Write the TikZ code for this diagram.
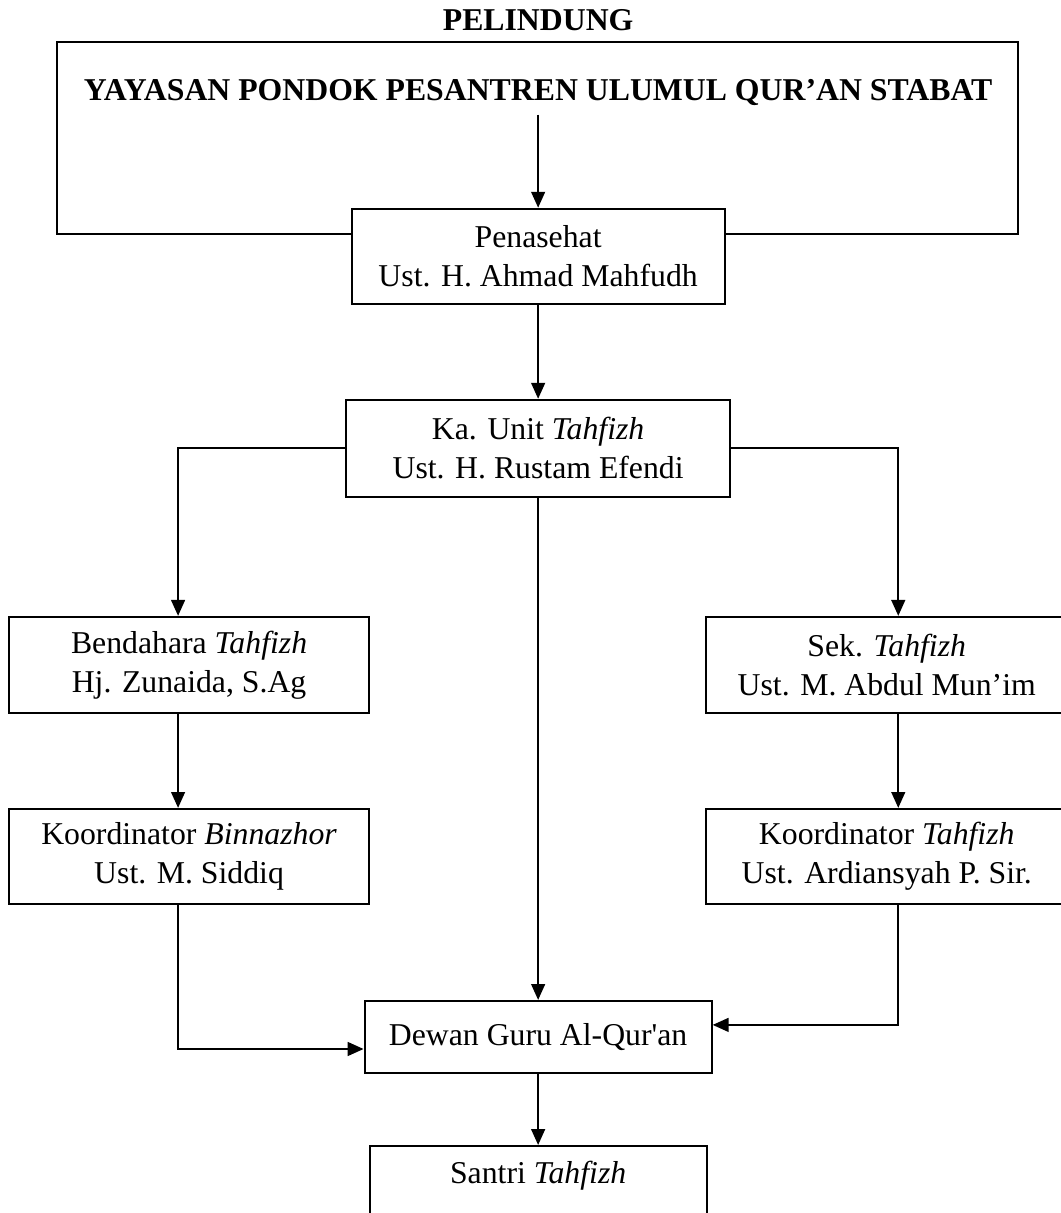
\documentclass[tikz,border=0pt]{standalone}
\usepackage{fontspec}
\setmainfont{Liberation Serif}
\usetikzlibrary{arrows.meta}

\begin{document}
\begin{tikzpicture}[>={Triangle[length=6pt,width=5.2pt]},line width=0.75pt,
  box/.style={draw,fill=white,inner sep=0pt,align=center,font=\fontsize{12}{14.8}\selectfont},
  headtext/.style={inner sep=3pt,font=\bfseries\fontsize{12}{14.5}\selectfont}]
\useasboundingbox (0,0) rectangle (14.08,16.11);
\node[headtext] (pelindung) at (7.147,15.836) {PELINDUNG};
\node[draw,minimum width=12.77cm,minimum height=2.55cm] (frame) at (7.14,14.28) {};
\node[headtext] (yayasan) at (7.147,14.88) {YAYASAN PONDOK PESANTREN ULUMUL QUR'AN STABAT};
\node[box,minimum width=4.955cm,minimum height=1.262cm] (penasehat) at (7.147,12.707) {Penasehat\\Ust. H. Ahmad Mahfudh};
\node[box,minimum width=5.101cm,minimum height=1.289cm] (kaunit) at (7.147,10.156) {Ka. Unit \textit{Tahfizh}\\Ust. H. Rustam Efendi};
\node[box,minimum width=4.783cm,minimum height=1.275cm] (bendahara) at (2.511,7.280) {Bendahara \textit{Tahfizh}\\Hj. Zunaida, S.Ag};
\node[box,minimum width=4.796cm,minimum height=1.275cm] (sek) at (11.777,7.280) {Sek. \textit{Tahfizh}\\Ust. M. Abdul Mun'im};
\node[box,minimum width=4.783cm,minimum height=1.262cm] (binnazhor) at (2.511,4.736) {Koordinator \textit{Binnazhor}\\Ust. M. Siddiq};
\node[box,minimum width=4.796cm,minimum height=1.262cm] (koortahfizh) at (11.777,4.736) {Koordinator \textit{Tahfizh}\\Ust. Ardiansyah P. Sir.};
\node[box,minimum width=4.610cm,minimum height=0.957cm] (dewan) at (7.147,2.338) {Dewan Guru Al-Qur\textquotesingle an};
\node[box,anchor=north,minimum width=4.477cm,text height=14pt,text depth=40pt] (santri) at (7.147,0.903) {Santri \textit{Tahfizh}};

\coordinate (lcol) at (2.365,10.156);
\coordinate (rcol) at (11.930,10.156);

\draw[->] (yayasan) -- (penasehat.north);
\draw[->] (penasehat) -- (kaunit);
\draw[->] (kaunit.west) -| (lcol |- bendahara.north);
\draw[->] (kaunit.east) -| (rcol |- sek.north);
\draw[->] (kaunit) -- (dewan);
\draw[->] (lcol |- bendahara.south) -- (lcol |- binnazhor.north);
\draw[->] (rcol |- sek.south) -- (rcol |- koortahfizh.north);
\draw[->] (lcol |- binnazhor.south) |- ([yshift=-0.16cm]dewan.west);
\draw[->] (rcol |- koortahfizh.south) |- ([yshift=0.16cm]dewan.east);
\draw[->] (dewan) -- (santri);
\end{tikzpicture}
\end{document}
